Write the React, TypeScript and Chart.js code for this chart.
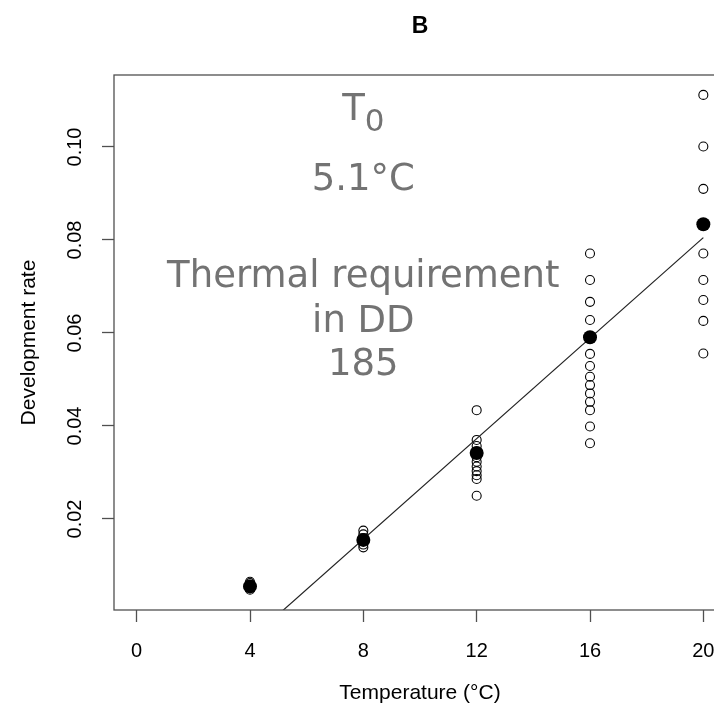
import React, { useEffect, useRef } from "react";
import { Chart, registerables } from "chart.js";

Chart.register(...registerables);

// Temperatures (°C) and development rates
const temps = [4, 8, 12, 16, 20];
const obs4 = [0.0065, 0.0062, 0.0058, 0.0055, 0.0051, 0.0048];
const obs8 = [0.0175, 0.0167, 0.0159, 0.0152, 0.0145, 0.0139];
const obs12 = [0.0434, 0.037, 0.0357, 0.0345, 0.0333, 0.0323, 0.0313, 0.0303, 0.0294, 0.0286, 0.025];
const obs16 = [0.0771, 0.0714, 0.0667, 0.0628, 0.0555, 0.0529, 0.0506, 0.0488, 0.047, 0.0452, 0.0434, 0.0399, 0.0363];
const obs20 = [0.1112, 0.1001, 0.091, 0.0771, 0.0714, 0.0671, 0.0626, 0.0556];
const meanRates = [0.0055, 0.0155, 0.0342, 0.0591, 0.0834];

// Linear fit (from T0 to the highest temperature)
const fitX = [5.1, 20];
const fitY = [0, 0.0805];

const xTicks = [0, 4, 8, 12, 16, 20];
const yTicks = [0.02, 0.04, 0.06, 0.08, 0.1];

const panelTitle = "B";
const t0Text = "5.1°C";
const ddLines = ["Thermal requirement", "in DD", "185"];
const xTitle = "Temperature (°C)";
const yTitle = "Development rate";

const AXIS_FONT = "'Liberation Sans', Arial, sans-serif";
const NOTE_FONT = "'DejaVu Sans', Verdana, sans-serif";

const overlay = {
  id: "overlay",
  afterDatasetsDraw(chart: any) {
    const { ctx, chartArea: a, scales } = chart;
    const xs = scales.x;
    const ys = scales.y;
    ctx.save();
    // plot box
    ctx.strokeStyle = "#505050";
    ctx.lineWidth = 1.3;
    ctx.strokeRect(a.left, a.top, a.right - a.left, a.bottom - a.top);

    // panel title
    ctx.fillStyle = "#000";
    ctx.font = `bold 23px ${AXIS_FONT}`;
    ctx.textAlign = "center";
    ctx.textBaseline = "alphabetic";
    ctx.fillText(panelTitle, (a.left + a.right) / 2, 33);

    // annotations
    const cx = xs.getPixelForValue(8);
    ctx.fillStyle = "#737373";
    ctx.textAlign = "left";
    ctx.font = `37px ${NOTE_FONT}`;
    const wT = ctx.measureText("T").width;
    ctx.font = `31px ${NOTE_FONT}`;
    const w0 = ctx.measureText("0").width;
    const startX = cx - (wT + w0) / 2;
    ctx.font = `37px ${NOTE_FONT}`;
    ctx.fillText("T", startX, ys.getPixelForValue(0.1058));
    ctx.font = `31px ${NOTE_FONT}`;
    ctx.fillText("0", startX + wT, ys.getPixelForValue(0.1035));

    ctx.textAlign = "center";
    ctx.font = `37px ${NOTE_FONT}`;
    ctx.fillText(t0Text, cx, ys.getPixelForValue(0.0908));
    const lineYs = [0.0699, 0.0602, 0.051];
    ddLines.forEach((s, i) => ctx.fillText(s, cx, ys.getPixelForValue(lineYs[i])));
    ctx.restore();
  },
};

export default function App() {
  const ref = useRef<HTMLCanvasElement | null>(null);

  useEffect(() => {
    if (!ref.current) return;
    const obsPoints = [obs4, obs8, obs12, obs16, obs20].flatMap((arr, i) =>
      arr.map((y) => ({ x: temps[i], y }))
    );
    const gridOpts = {
      display: true,
      drawOnChartArea: false,
      drawTicks: true,
      tickLength: 12,
      tickColor: "#505050",
      tickWidth: 1.3,
    };
    const chart = new Chart(ref.current, {
      type: "scatter",
      data: {
        datasets: [
          {
            label: "mean",
            data: temps.map((t, i) => ({ x: t, y: meanRates[i] })),
            pointRadius: 7,
            pointHoverRadius: 7,
            backgroundColor: "#000",
            borderColor: "#000",
            borderWidth: 0,
          },
          {
            type: "line",
            label: "fit",
            data: fitX.map((x, i) => ({ x, y: fitY[i] })),
            borderColor: "#222",
            borderWidth: 1.2,
            pointRadius: 0,
            fill: false,
          } as any,
          {
            label: "observed",
            data: obsPoints,
            pointRadius: 4.5,
            pointHoverRadius: 4.5,
            backgroundColor: "rgba(0,0,0,0)",
            borderColor: "#000",
            borderWidth: 1.1,
          },
        ],
      },
      options: {
        responsive: false,
        animation: false,
        devicePixelRatio: 1,
        events: [],
        layout: { padding: { top: 75, right: 14, left: 0, bottom: 0 } },
        plugins: {
          legend: { display: false },
          tooltip: { enabled: false },
          title: { display: false },
        },
        scales: {
          x: {
            type: "linear",
            min: -0.8,
            max: 20.8,
            afterBuildTicks: (s: any) => {
              s.ticks = xTicks.map((v) => ({ value: v }));
            },
            afterFit: (s: any) => {
              s.height = 100;
            },
            grid: gridOpts,
            border: { display: false },
            ticks: {
              padding: 17,
              color: "#000",
              autoSkip: false,
              minRotation: 0,
              maxRotation: 0,
              font: { family: AXIS_FONT, size: 20 },
              callback: (v: any) => String(v),
            },
            title: {
              display: true,
              text: xTitle,
              color: "#000",
              font: { family: AXIS_FONT, size: 21 },
              padding: { top: 0, bottom: 4 },
            },
          },
          y: {
            type: "linear",
            min: 0.00043,
            max: 0.11548,
            afterBuildTicks: (s: any) => {
              s.ticks = yTicks.map((v) => ({ value: v }));
            },
            afterFit: (s: any) => {
              s.width = 114;
            },
            grid: gridOpts,
            border: { display: false },
            ticks: {
              padding: 7.5,
              crossAlign: "center",
              color: "#000",
              autoSkip: false,
              minRotation: 90,
              maxRotation: 90,
              font: { family: AXIS_FONT, size: 20 },
              callback: (v: any) => Number(v).toFixed(2),
            },
            title: {
              display: true,
              text: yTitle,
              color: "#000",
              font: { family: AXIS_FONT, size: 21 },
              padding: { top: 17, bottom: 0 },
            },
          },
        },
      } as any,
      plugins: [overlay],
    });
    return () => chart.destroy();
  }, []);

  return (
    <div
      style={{
        position: "fixed",
        left: 0,
        top: 0,
        width: 714,
        height: 710,
        overflow: "hidden",
        background: "#fff",
      }}
    >
      <canvas ref={ref} width={740} height={710} style={{ display: "block" }} />
    </div>
  );
}
